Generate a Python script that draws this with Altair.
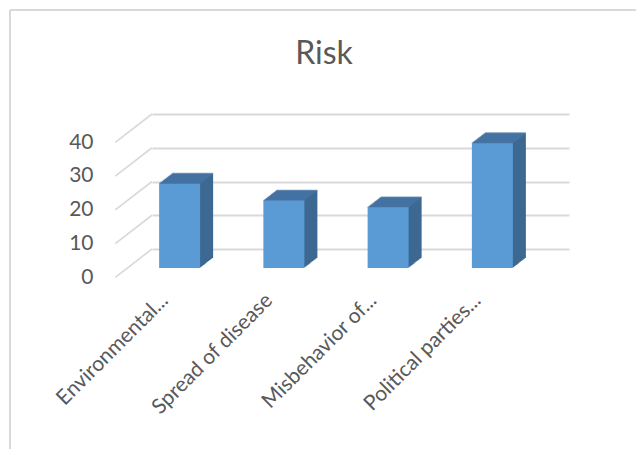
import altair as alt
import pandas as pd

# Risk survey: share of answers per category
categories = ["Environmental...", "Spread of disease", "Misbehavior of...", "Political parties..."]
values = [25, 20, 18, 37]
y_ticks = [0, 10, 20, 30, 40]
title_text = ["Risk"]

bars = pd.DataFrame({"risk": categories, "value": values})
ticks = pd.DataFrame({"tick": y_ticks})
title_df = pd.DataFrame({"label": title_text})

# back wall size (plot area) and pseudo-3D geometry, in pixels
W, H = 417, 135
PAD_L, PAD_T = 152, 114
FRONT_DX, FRONT_DY = -24.5, 19     # front faces sit in front of the back wall
DEPTH_DX, DEPTH_DY = 13, -10       # depth of each column
BAR_W = 41

FRONT = "#5B9BD5"
SIDE = "#3C6891"
TOP = "#4675A6"
GRID = "#D9D9D9"
TEXT = "#595959"
FONT = "Lato"

y_scale = alt.Scale(domain=[0, 40], nice=False)
x_scale = alt.Scale(paddingInner=1 - BAR_W / (W / 4), paddingOuter=(1 - BAR_W / (W / 4)) / 2)

x_axis = alt.Axis(
    title=None, labelAngle=-45, labelAlign="right", labelBaseline="middle",
    labelPadding=48, labelOffset=-39, ticks=False, domain=False, grid=False,
    labelFont=FONT, labelFontSize=21, labelColor=TEXT, labelLimit=0, labelOverlap=False,
)
y_axis = alt.Axis(
    title=None, values=y_ticks, ticks=False, domain=False, grid=True,
    gridColor=GRID, gridWidth=1.8, labelPadding=59, labelOffset=28,
    labelFont=FONT, labelFontSize=21, labelColor=TEXT,
)

X = alt.X("risk:N", sort=categories, scale=x_scale, axis=x_axis)
Y = alt.Y("value:Q", scale=y_scale, axis=y_axis)

# back wall gridlines come from the y axis; floor/side-wall diagonals
diagonals = alt.Chart(ticks).mark_rule(
    color=GRID, strokeWidth=1.6, x2Offset=-36.7, y2Offset=28.4
).encode(
    x=alt.value(0), x2=alt.value(0),
    y=alt.Y("tick:Q", scale=y_scale, axis=y_axis), y2="tick:Q",
)

layers = [diagonals]

# extruded body of each column (side face colour)
n_side = 13
for k in range(1, n_side + 1):
    layers.append(
        alt.Chart(bars).mark_bar(
            color=SIDE,
            xOffset=FRONT_DX + DEPTH_DX * k / n_side,
            yOffset=FRONT_DY + DEPTH_DY * k / n_side,
        ).encode(x=X, y=Y)
    )

# top face of each column
n_top = 10
for k in range(0, n_top + 1):
    layers.append(
        alt.Chart(bars).mark_tick(
            color=TOP, size=BAR_W, thickness=1.6, orient="horizontal",
            xOffset=FRONT_DX + DEPTH_DX * k / n_top,
            yOffset=FRONT_DY + DEPTH_DY * k / n_top,
        ).encode(x=X, y=Y)
    )

# front face
layers.append(
    alt.Chart(bars).mark_bar(color=FRONT, xOffset=FRONT_DX, yOffset=FRONT_DY).encode(x=X, y=Y)
)

# chart title
layers.append(
    alt.Chart(title_df).mark_text(
        font=FONT, fontSize=32, fontWeight=400, color=TEXT, align="center", baseline="alphabetic"
    ).encode(text="label:N", x=alt.value(324 - PAD_L), y=alt.value(63.5 - PAD_T))
)

# chart frame
frame_top = alt.Chart(ticks).mark_rule(color=GRID, strokeWidth=1.5).encode(
    x=alt.value(10 - PAD_L), x2=alt.value(W + 100), y=alt.value(10 - PAD_T)
)
frame_left = alt.Chart(ticks).mark_rule(color=GRID, strokeWidth=1.5).encode(
    x=alt.value(10 - PAD_L), y=alt.value(10 - PAD_T), y2=alt.value(H + 300)
)
layers += [frame_top, frame_left]

chart = alt.layer(*layers).properties(
    width=W, height=H,
    background="white",
    autosize=alt.AutoSizeParams(type="none"),
    padding={"left": PAD_L, "top": PAD_T, "right": 636 - PAD_L - W, "bottom": 449 - PAD_T - H},
).configure_view(stroke="transparent", strokeWidth=0)

chart.save("out.html", embed_options={"renderer": "svg", "actions": False})
